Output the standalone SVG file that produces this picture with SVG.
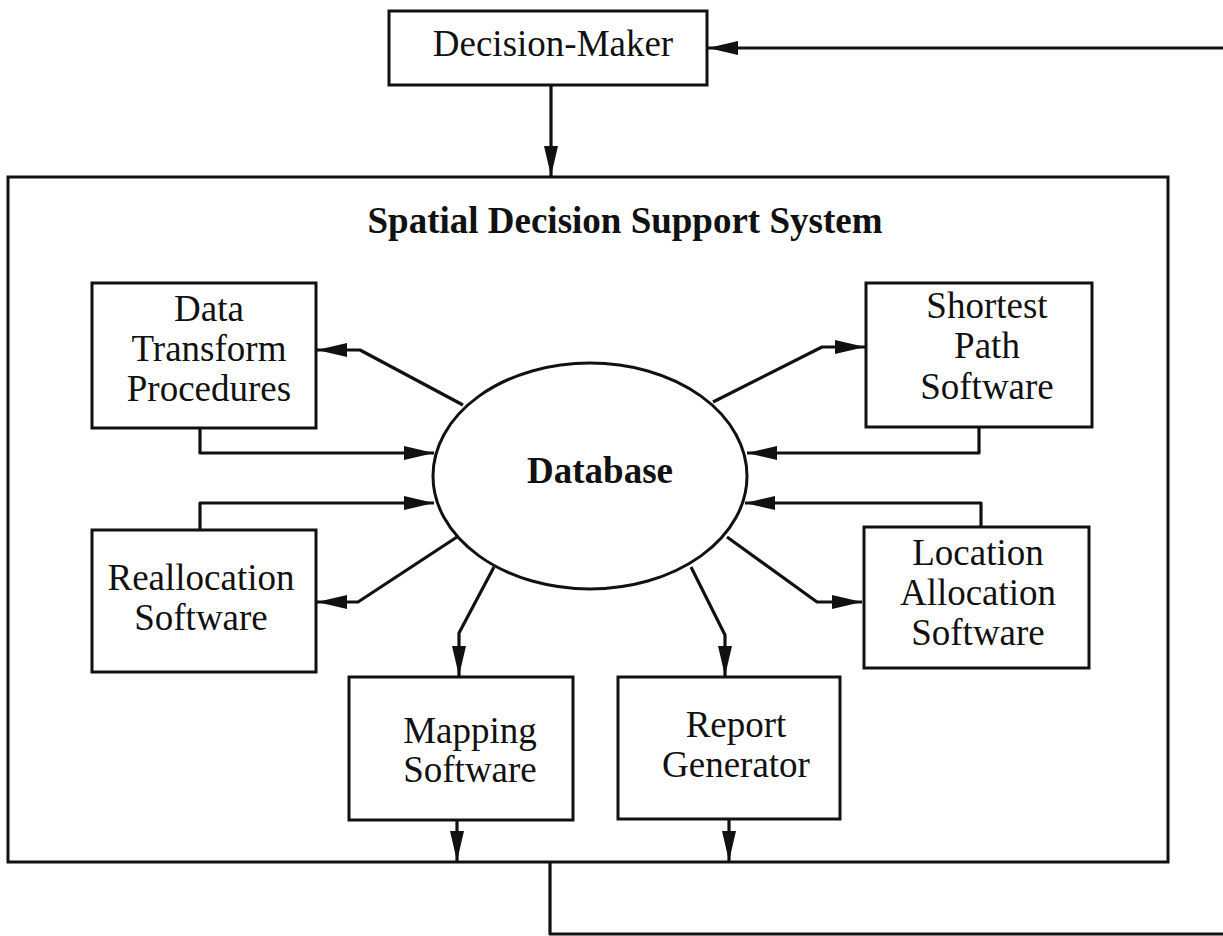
<svg xmlns="http://www.w3.org/2000/svg" width="1223" height="936" viewBox="0 0 1223 936">
<defs>
<style>
.box{fill:none;stroke:#111;stroke-width:3}
.ell{fill:#fff;stroke:#111;stroke-width:3}
.c{fill:none;stroke:#111;stroke-width:3.2;stroke-linejoin:round}
.a{marker-end:url(#ah)}
text{font-family:"Liberation Serif","Times New Roman",serif;font-size:37px;fill:#111;text-anchor:middle}
.b{font-weight:bold}
</style>
<marker id="ah" markerUnits="userSpaceOnUse" markerWidth="32" markerHeight="16" refX="30" refY="7" orient="auto">
<path d="M0,0 L30,7 L0,14 z" fill="#111"/>
</marker>
</defs>
<rect width="1223" height="936" fill="#fff"/>
<g id="sdss">
<rect class="box" x="8" y="177" width="1160" height="685"/>
<text class="b" x="625" y="233">Spatial Decision Support System</text>
</g>
<g id="decision-maker">
<rect class="box" x="389" y="11" width="318" height="74"/>
<text x="553" y="56">Decision-Maker</text>
</g>
<g id="database">
<ellipse class="ell" cx="590" cy="476" rx="157" ry="113"/>
<text class="b" x="600" y="483">Database</text>
</g>
<g id="data-transform">
<rect class="box" x="92" y="283" width="224" height="145"/>
<text x="209" y="321">Data</text>
<text x="209" y="361">Transform</text>
<text x="209" y="401">Procedures</text>
</g>
<g id="shortest-path">
<rect class="box" x="866" y="283" width="226" height="144"/>
<text x="987" y="318">Shortest</text>
<text x="987" y="358">Path</text>
<text x="987" y="399">Software</text>
</g>
<g id="reallocation">
<rect class="box" x="92" y="530" width="224" height="142"/>
<text x="201" y="590">Reallocation</text>
<text x="201" y="630">Software</text>
</g>
<g id="location-allocation">
<rect class="box" x="864" y="527" width="225" height="141"/>
<text x="978" y="565">Location</text>
<text x="978" y="605">Allocation</text>
<text x="978" y="645">Software</text>
</g>
<g id="mapping">
<rect class="box" x="349" y="677" width="224" height="143"/>
<text x="470" y="743">Mapping</text>
<text x="470" y="782">Software</text>
</g>
<g id="report">
<rect class="box" x="618" y="677" width="222" height="142"/>
<text x="736" y="737">Report</text>
<text x="736" y="777">Generator</text>
</g>
<g id="connectors">
<path class="c a" d="M1223,48 L708,48"/>
<path class="c a" d="M551,85 L551,176"/>
<path class="c a" d="M463,405 L360,350 L317,350"/>
<path class="c a" d="M713,402 L822,347 L865,347"/>
<path class="c a" d="M457,537 L358,602 L317,602"/>
<path class="c a" d="M727,537 L817,602 L862,602"/>
<path class="c a" d="M494,567 L459,633 L459,676"/>
<path class="c a" d="M691,567 L725,635 L725,676"/>
<path class="c a" d="M200,428 L200,453 L434,453"/>
<path class="c a" d="M200,530 L200,503 L434,503"/>
<path class="c a" d="M979,427 L979,453 L747,453"/>
<path class="c a" d="M981,527 L981,503 L745,503"/>
<path class="c a" d="M457,820 L457,861"/>
<path class="c a" d="M729,819 L729,861"/>
<path class="c" d="M550,862 L550,934 L1223,934"/>
</g>
</svg>
